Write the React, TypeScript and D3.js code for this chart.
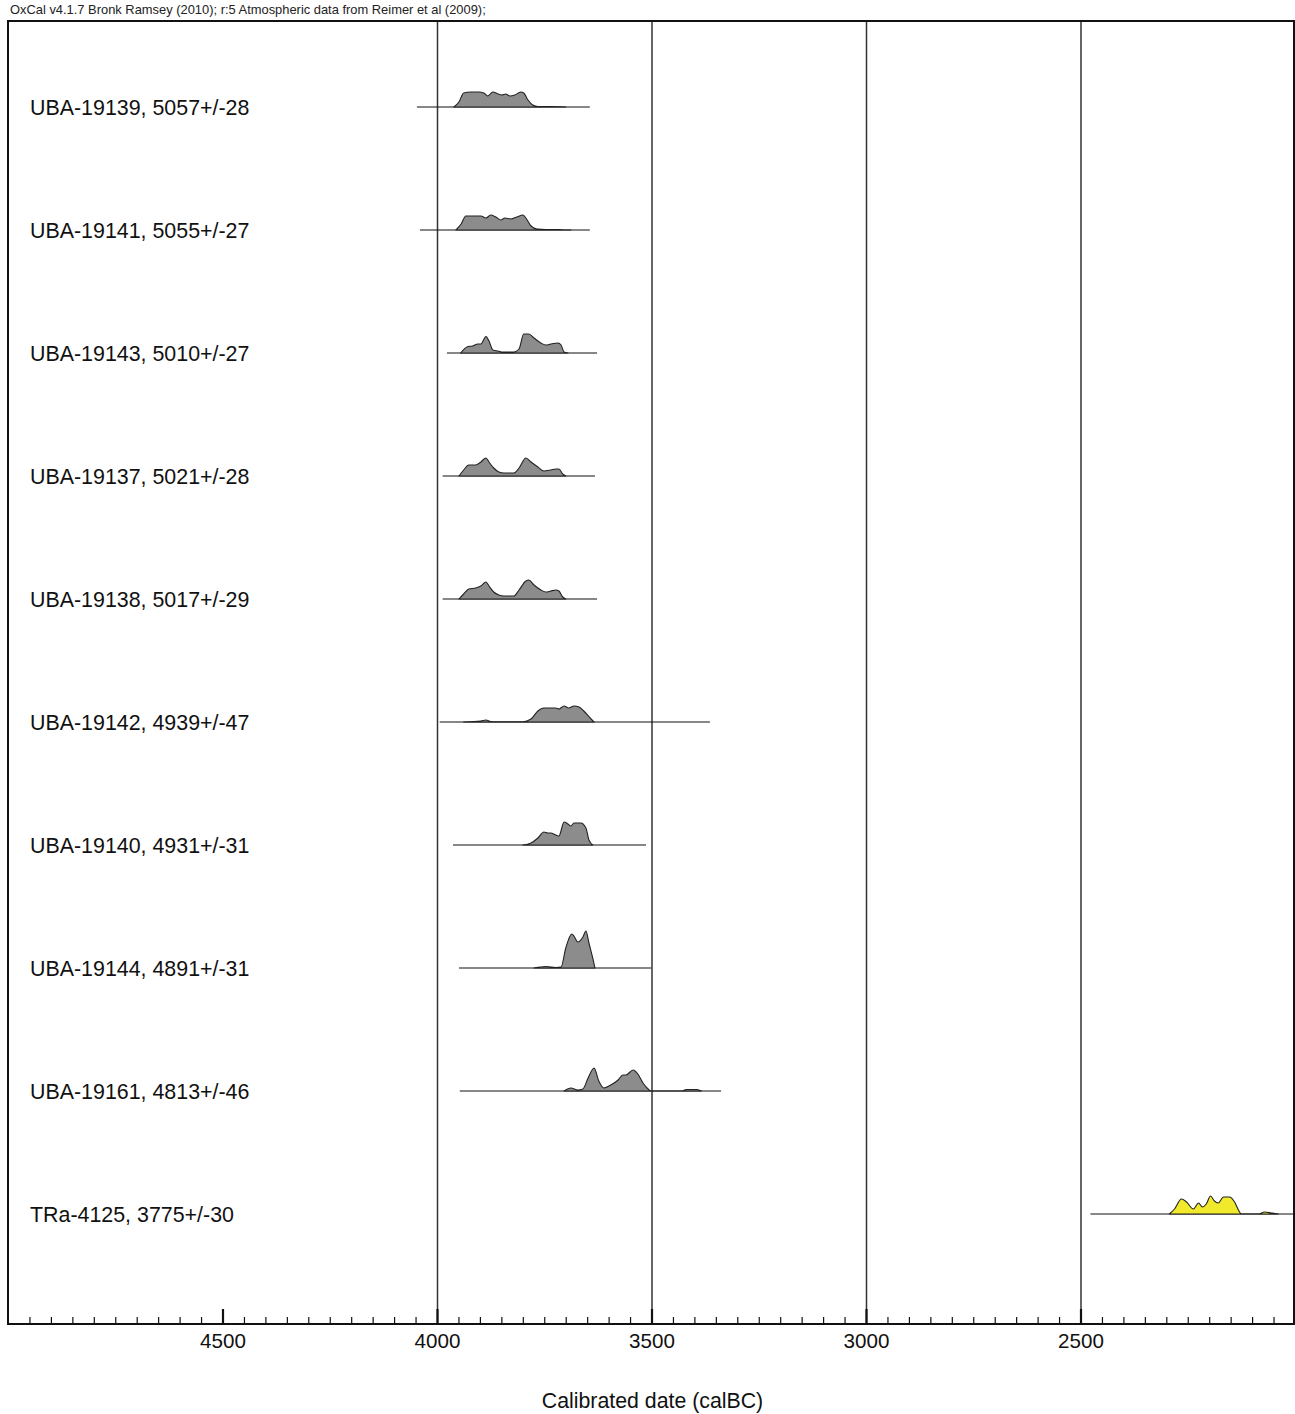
import React from "react";
import * as d3 from "d3";

const headerText = "OxCal v4.1.7 Bronk Ramsey (2010); r:5 Atmospheric data from Reimer et al (2009);";
const axisTitle = "Calibrated date (calBC)";

const sampleLabels = [
  "UBA-19139, 5057+/-28",
  "UBA-19141, 5055+/-27",
  "UBA-19143, 5010+/-27",
  "UBA-19137, 5021+/-28",
  "UBA-19138, 5017+/-29",
  "UBA-19142, 4939+/-47",
  "UBA-19140, 4931+/-31",
  "UBA-19144, 4891+/-31",
  "UBA-19161, 4813+/-46",
  "TRa-4125, 3775+/-30",
];

const sampleColors = ["gray", "gray", "gray", "gray", "gray", "gray", "gray", "gray", "gray", "yellow"];

// calibration range (calBC) drawn as the baseline of each row
const sampleRanges: [number, number][] = [
  [4048, 3645],
  [4041, 3645],
  [3978, 3628],
  [3988, 3633],
  [3988, 3628],
  [3995, 3365],
  [3964, 3514],
  [3950, 3502],
  [3948, 3339],
  [2478, 2000],
];

// [year calBC, relative probability]
const dens19139: [number, number][] = [[3962,0],[3950,5],[3939,14],[3922,15],[3904,15],[3892,14],[3883,11],[3871,15],[3859,13],[3850,12],[3841,13],[3831,11],[3820,12],[3806,15],[3799,14],[3789,7],[3778,2],[3766,0.5],[3712,0.3],[3701,0]];
const dens19141: [number, number][] = [[3957,0],[3945,6],[3934,14],[3899,14],[3887,12],[3876,15],[3864,13],[3852,10],[3843,12],[3829,11],[3815,13],[3801,15],[3794,12],[3782,4],[3768,1],[3747,0.5],[3719,0.5],[3712,0.3],[3689,0]];
const dens19143: [number, number][] = [[3946,0],[3929,6.5],[3918,7],[3906,9],[3899,9],[3887,16.5],[3880,12],[3871,3],[3859,2],[3848,1],[3822,1],[3810,4],[3799,19],[3787,19],[3775,15],[3759,10],[3747,8],[3736,9],[3719,10],[3712,8],[3705,1],[3696,0]];
const dens19137: [number, number][] = [[3950,0],[3939,6],[3927,11],[3911,11],[3899,14],[3887,18],[3880,14],[3869,8],[3857,4],[3845,3],[3822,3],[3810,8],[3794,18],[3782,14],[3766,9],[3752,5],[3736,6],[3724,7],[3717,7],[3708,2],[3701,0]];
const dens19138: [number, number][] = [[3950,0],[3939,5],[3927,10],[3911,11],[3899,13],[3887,17],[3880,13],[3869,7],[3857,4],[3845,3],[3822,3],[3810,9],[3794,18],[3787,19],[3775,14],[3759,9],[3747,7],[3736,8],[3724,9],[3717,8],[3708,2],[3701,0]];
const dens19142: [number, number][] = [[3939,0],[3899,1],[3887,2],[3876,0.5],[3864,0.3],[3801,0.3],[3782,3],[3766,11],[3752,14],[3724,14],[3717,13],[3705,16],[3694,14],[3682,16],[3670,15],[3659,11],[3642,3],[3635,0]];
const dens19140: [number, number][] = [[3801,0],[3782,2],[3766,7],[3752,13],[3743,12],[3736,12],[3724,10],[3717,9],[3705,23],[3696,21],[3689,19],[3682,22],[3666,22],[3654,17],[3647,5],[3638,0]];
const dens19144: [number, number][] = [[3775,0],[3747,1.5],[3724,0.5],[3712,1],[3701,20],[3687,34],[3682,32],[3673,26],[3661,31],[3654,37],[3647,25],[3635,4],[3633,0]];
const dens19161: [number, number][] = [[3705,0],[3689,3],[3673,1],[3661,2],[3649,13],[3635,23],[3624,10],[3612,3],[3596,6],[3579,11],[3568,16],[3561,16],[3544,21],[3533,17],[3521,8],[3509,2],[3502,0],[3430,0],[3420,1.5],[3395,1.5],[3385,0]];
const dens4125: [number, number][] = [[2294,0],[2282,5],[2266,15],[2254,12],[2238,5],[2226,11],[2217,7],[2208,10],[2198,18],[2189,13],[2180,11],[2168,17],[2154,17],[2142,12],[2133,4],[2126,0],[2086,0],[2072,2],[2056,1],[2040,0]];

const sampleDensities = [dens19139, dens19141, dens19143, dens19137, dens19138, dens19142, dens19140, dens19144, dens19161, dens4125];

const axisDomain: [number, number] = [5000, 2000];
const labelledTicks = [4500, 4000, 3500, 3000, 2500];
const gridYears = [4000, 3500, 3000, 2500];

const W = 1295;
const H = 1414;
const FRAME = { left: 8, right: 1294, top: 21, bottom: 1324 };
const FONT = "'Liberation Sans', Arial, Helvetica, sans-serif";

const fills: Record<string, string> = { gray: "#8c8c8c", yellow: "#f1e92c" };

export default function App() {
  const x = d3.scaleLinear().domain(axisDomain).range([8.5, 1295.5]);
  const y = d3.scalePoint<string>().domain(sampleLabels).range([107, 1214]);
  const h = d3.scaleLinear().domain([0, 40]).range([0, 40]);

  const allTicks = d3.range(axisDomain[1] + 50, axisDomain[0], 50);

  return (
    <div style={{ position: "absolute", left: 0, top: 0 }}>
      <svg width={W} height={H} style={{ display: "block", background: "#fff" }} fontFamily={FONT}>
        <rect x={0} y={0} width={W} height={H} fill="#fff" />
        <text x={10} y={13.5} fontSize={12.9} fill="#222">{headerText}</text>

        {gridYears.map((g) => (
          <line key={"g" + g} x1={x(g)} x2={x(g)} y1={FRAME.top} y2={FRAME.bottom} stroke="#333" strokeWidth={1.5} />
        ))}

        {sampleLabels.map((lab, i) => {
          const base = y(lab) as number;
          const area = d3
            .area<[number, number]>()
            .x((d) => x(d[0]))
            .y0(base)
            .y1((d) => base - h(d[1]))
            .curve(d3.curveMonotoneX);
          const r = sampleRanges[i];
          return (
            <g key={lab}>
              <text x={30} y={base + 7.5} fontSize={21.4} fill="#111">{lab}</text>
              <line x1={x(r[0])} x2={Math.min(x(r[1]), FRAME.right)} y1={base} y2={base} stroke="#111" strokeWidth={1.1} />
              <path d={area(sampleDensities[i]) || ""} fill={fills[sampleColors[i]]} stroke="#222" strokeWidth={1.1} strokeLinejoin="round" />
            </g>
          );
        })}

        <rect x={FRAME.left} y={FRAME.top} width={FRAME.right - FRAME.left} height={FRAME.bottom - FRAME.top} fill="none" stroke="#111" strokeWidth={2} />

        {allTicks.map((t) => {
          const major = t % 500 === 0;
          return (
            <line key={"t" + t} x1={x(t)} x2={x(t)} y1={FRAME.bottom} y2={FRAME.bottom - (major ? 15 : 7)} stroke="#111" strokeWidth={major ? 2.2 : 1.2} />
          );
        })}
        {labelledTicks.map((t) => (
          <text key={"l" + t} x={x(t)} y={1347.5} fontSize={20.6} textAnchor="middle" fill="#111">{t}</text>
        ))}
        <text x={652.5} y={1408} fontSize={21.3} textAnchor="middle" fill="#111">{axisTitle}</text>
      </svg>
    </div>
  );
}
